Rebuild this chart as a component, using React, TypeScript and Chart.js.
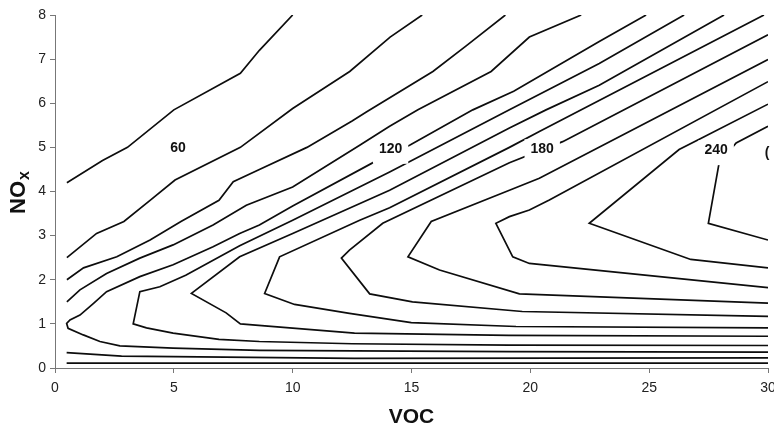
import React, { useEffect, useRef } from "react";
import { Chart, registerables } from "chart.js";

Chart.register(...registerables);

// ---- axis ticks ----
const xTicks = [0, 5, 10, 15, 20, 25, 30];
const yTicks = [0, 1, 2, 3, 4, 5, 6, 7, 8];

// ---- contour polylines [VOC, NOx] ----
const L1 = [[0.5, 4.2], [2.0, 4.7], [3.05, 5.0], [5.0, 5.85], [7.8, 6.68], [8.6, 7.2], [10.0, 8.0]];
const L2 = [[0.5, 2.5], [1.75, 3.05], [2.9, 3.32], [4.0, 3.8], [5.05, 4.26], [7.8, 5.0], [10.0, 5.88], [12.4, 6.72], [14.1, 7.5], [15.45, 8.0]];
const L3 = [[0.5, 2.0], [1.2, 2.27], [2.6, 2.52], [4.0, 2.9], [5.3, 3.32], [6.9, 3.8], [7.5, 4.22], [8.6, 4.5], [10.6, 5.0], [12.5, 5.6], [13.1, 5.8], [15.9, 6.72], [17.3, 7.3], [18.95, 8.0]];
const L4 = [[0.5, 1.5], [1.05, 1.77], [2.17, 2.14], [3.57, 2.49], [4.97, 2.79], [6.65, 3.24], [8.05, 3.69], [10.0, 4.1], [12.82, 5.05], [14.08, 5.48], [15.27, 5.85], [18.35, 6.72], [19.96, 7.5], [22.14, 8.0]];
const N0 = [[30, 0.36], [19.12, 0.37], [12.6, 0.39], [8.6, 0.4], [4.97, 0.45], [2.73, 0.5], [1.89, 0.6], [1.19, 0.75], [0.55, 0.9], [0.49, 1.01], [0.63, 1.09], [1.05, 1.2], [1.61, 1.46], [2.17, 1.73], [3.57, 2.07], [4.97, 2.34], [6.65, 2.75], [7.77, 3.05], [8.6, 3.24], [10.0, 3.67], [13.4, 4.66], [14.92, 5.05], [17.58, 5.85], [19.3, 6.27], [22.9, 7.4], [24.87, 8.0]];
const N1 = [[30, 0.51], [19.1, 0.52], [12.5, 0.55], [8.6, 0.6], [6.9, 0.65], [4.97, 0.79], [3.85, 0.91], [3.29, 1.0], [3.57, 1.73], [4.41, 1.84], [5.5, 2.1], [7.77, 2.77], [10.0, 3.35], [14.08, 4.44], [19.12, 5.85], [22.9, 6.9], [26.47, 8.0]];
const N2 = [[30, 0.72], [19.1, 0.74], [12.6, 0.79], [8.7, 0.96], [7.8, 1.0], [7.2, 1.25], [5.74, 1.69], [7.77, 2.52], [10.0, 3.05], [14.08, 4.03], [19.12, 5.44], [20.66, 5.85], [22.9, 6.41], [28.15, 8.0]];
const N3 = [[30, 0.91], [19.4, 0.94], [14.99, 1.03], [12.39, 1.24], [10.08, 1.44], [8.82, 1.69], [9.45, 2.52], [12.82, 3.35], [14.08, 3.63], [19.12, 5.0], [20.38, 5.36], [29.83, 8.0]];
const N4 = [[30, 1.17], [19.66, 1.28], [15.04, 1.5], [13.24, 1.68], [12.05, 2.49], [12.39, 2.67], [13.79, 3.28], [19.12, 4.65], [21.36, 5.13], [30, 7.55]];
const N5 = [[30, 1.47], [19.54, 1.68], [16.18, 2.22], [14.85, 2.52], [15.83, 3.32], [19.12, 4.03], [20.38, 4.3], [30, 6.99]];
const N6 = [[30, 1.82], [19.96, 2.37], [19.26, 2.52], [18.55, 3.28], [19.12, 3.43], [19.96, 3.58], [20.8, 3.81], [30, 6.49]];
const N7 = [[30, 2.27], [26.75, 2.46], [22.48, 3.28], [26.26, 4.95], [27.17, 5.2], [30, 5.98]];
const N8 = [[30, 2.9], [27.49, 3.28], [27.94, 4.64], [28.66, 5.1], [30, 5.48]];
const B1 = [[0.49, 0.35], [2.8, 0.27], [12.6, 0.22], [30, 0.23]];
const B2 = [[0.49, 0.11], [30, 0.11]];

const contours = [L1, L2, L3, L4, N0, N1, N2, N3, N4, N5, N6, N7, N8, B1, B2];

// ---- contour labels ----
const labelTexts = ["60", "120", "180", "240", "("];
const labelX = [5.18, 14.12, 20.5, 27.82, 29.96];
const labelY = [5.0, 4.99, 4.98, 4.96, 4.9];

const FONT = "'Liberation Sans', Arial, Helvetica, sans-serif";

const labelPlugin = {
  id: "contourLabels",
  afterDatasetsDraw(chart: any) {
    const ctx = chart.ctx;
    const xs = chart.scales.x;
    const ys = chart.scales.y;
    ctx.save();
    ctx.font = `bold 14px ${FONT}`;
    for (let i = 0; i < labelTexts.length; i++) {
      const px = xs.getPixelForValue(labelX[i]);
      const py = ys.getPixelForValue(labelY[i]);
      const w = ctx.measureText(labelTexts[i]).width;
      ctx.fillStyle = "#ffffff";
      ctx.fillRect(px - w / 2 - 6, py - 9, w + 12, 25);
      ctx.fillStyle = "#111111";
      ctx.textAlign = "center";
      ctx.textBaseline = "alphabetic";
      ctx.fillText(labelTexts[i], px, py + 5);
    }
    ctx.restore();
  },
  afterDraw(chart: any) {
    const ctx = chart.ctx;
    const area = chart.chartArea;
    ctx.save();
    ctx.fillStyle = "#111111";
    // x title
    ctx.font = `bold 21px ${FONT}`;
    ctx.textAlign = "center";
    ctx.textBaseline = "alphabetic";
    ctx.fillText("VOC", (area.left + area.right) / 2, 423);
    // y title with subscript
    ctx.translate(25, (area.top + area.bottom) / 2 + 1);
    ctx.rotate(-Math.PI / 2);
    ctx.font = `bold 22px ${FONT}`;
    const w1 = ctx.measureText("NO").width;
    ctx.font = `bold 16px ${FONT}`;
    const w2 = ctx.measureText("x").width;
    const start = -(w1 + w2 + 1) / 2;
    ctx.textAlign = "left";
    ctx.font = `bold 22px ${FONT}`;
    ctx.fillText("NO", start, 0);
    ctx.font = `bold 16px ${FONT}`;
    ctx.fillText("x", start + w1 + 1, 4);
    ctx.restore();
  },
};

export default function App() {
  const ref = useRef<HTMLCanvasElement | null>(null);
  useEffect(() => {
    if (!ref.current) return;
    const chart = new Chart(ref.current, {
      type: "scatter",
      data: {
        datasets: contours.map((c) => ({
          data: c.map(([x, y]) => ({ x, y })),
          showLine: true,
          borderColor: "#0d0d0d",
          borderWidth: 1.7,
          pointRadius: 0,
          pointHoverRadius: 0,
          fill: false,
          tension: 0,
        })),
      },
      options: {
        responsive: false,
        maintainAspectRatio: false,
        animation: false,
        events: [],
        layout: { padding: { top: 15, right: 6, left: 0, bottom: 0 }, autoPadding: false },
        plugins: { legend: { display: false }, tooltip: { enabled: false } },
        scales: {
          x: {
            type: "linear",
            min: 0,
            max: 30,
            afterBuildTicks: (s: any) => {
              s.ticks = xTicks.map((v) => ({ value: v }));
            },
            ticks: { font: { family: FONT, size: 14 }, color: "#222222", padding: 7, maxRotation: 0, autoSkip: false },
            grid: { display: true, drawOnChartArea: false, drawTicks: true, tickLength: 5, color: "#777777", lineWidth: 1 },
            border: { display: true, color: "#777777", width: 1 },
            afterFit: (s: any) => {
              s.height = 59;
              s.paddingLeft = 0;
              s.paddingRight = 0;
            },
          },
          y: {
            type: "linear",
            min: 0,
            max: 8,
            afterBuildTicks: (s: any) => {
              s.ticks = yTicks.map((v) => ({ value: v }));
            },
            ticks: { font: { family: FONT, size: 14 }, color: "#222222", padding: 4, autoSkip: false },
            grid: { display: true, drawOnChartArea: false, drawTicks: true, tickLength: 5, color: "#777777", lineWidth: 1 },
            border: { display: true, color: "#777777", width: 1 },
            afterFit: (s: any) => {
              s.width = 55;
              s.paddingTop = 0;
              s.paddingBottom = 0;
            },
          },
        },
      },
      plugins: [labelPlugin],
    } as any);
    return () => chart.destroy();
  }, []);
  return (
    <div style={{ position: "fixed", left: 0, top: 0, width: 774, height: 427, background: "#fff" }}>
      <canvas ref={ref} width={774} height={427} style={{ display: "block" }} />
    </div>
  );
}
